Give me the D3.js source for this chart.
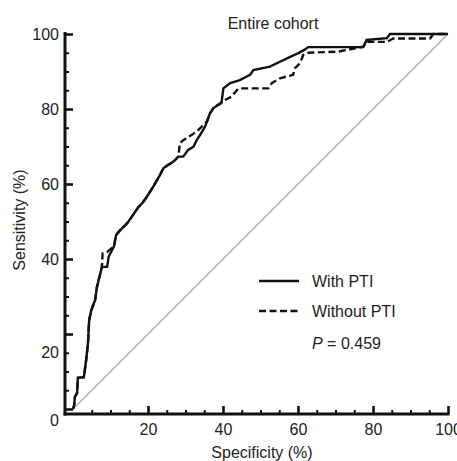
<!DOCTYPE html>
<html>
<head>
<meta charset="utf-8">
<script src="https://cdn.jsdelivr.net/npm/d3@7"></script>
<style>
  body { margin: 0; background: #fff; }
  text { font-family: "Liberation Sans", Arial, sans-serif; fill: #222; }
</style>
</head>
<body>
<div id="chart"></div>
<script>
(function () {

    // [specificity, sensitivity]
    const withPTI = [
        [0, 0], [0.3, 1], [0.5, 3.2], [1.1, 4.3], [1.3, 8.3], [2.9, 8.5], [3.5, 13],
        [4, 17.6], [4.3, 23.7], [4.9, 26.4], [5.9, 29.1], [6.4, 32.6], [7.3, 36.2],
        [7.7, 37.9], [9.1, 37.9], [9.5, 40.6], [10.9, 43.3], [11.5, 46.4], [12.6, 47.7],
        [14.4, 49.5], [15.7, 51.3], [17.5, 53.9], [18.4, 54.8], [19.7, 56.6], [21.4, 59.3],
        [23.2, 62.4], [24.1, 64.2], [25.4, 65.1], [26.7, 65.9], [28.1, 67.3], [29.4, 67.3],
        [30.7, 69.1], [32.1, 69.9], [33, 71.7], [33.9, 73.1], [35.2, 75.3], [35.7, 76.6],
        [36.5, 78.8], [37.4, 80.2], [38.7, 81.1], [39.6, 81.6], [40.1, 85.5], [41.9, 86.9],
        [44.5, 87.7], [47.2, 89.1], [48.1, 90.4], [52.5, 91.3], [55.2, 92.6], [57.9, 93.9],
        [60.1, 94.9], [61.9, 95.9], [62.7, 96.5], [77.4, 96.5], [78.3, 98.4], [83.7, 98.9],
        [84.5, 100], [100, 100]
    ];

    const withoutPTI = [
        [0, 0], [0.3, 1], [0.5, 3.2], [1.1, 4.3], [1.3, 8.3], [2.9, 8.5], [3.5, 13],
        [4, 17.6], [4.3, 23.7], [4.9, 26.4], [5.9, 29.1], [6.4, 32.6], [7.3, 36.2],
        [7.7, 37.9], [7.9, 41.5], [9.1, 41.9], [10.9, 43.3], [11.5, 46.4], [12.6, 47.7],
        [14.4, 49.5], [15.7, 51.3], [17.5, 53.9], [18.4, 54.8], [19.7, 56.6], [21.4, 59.3],
        [23.2, 62.4], [24.1, 64.2], [25.4, 65.1], [26.7, 65.9], [28.1, 67.3], [28.5, 70.9],
        [29.4, 71.7], [31.7, 73.1], [33.4, 74.4], [34.7, 75.7], [35.7, 76.6], [36.5, 78.8],
        [37.4, 80.2], [38.7, 81.1], [39.7, 81.9], [40.5, 82.4], [42.3, 83.3], [44.1, 85.5],
        [52.1, 85.5], [53, 86.9], [55.2, 88.2], [58.7, 89.1], [59.2, 90.9], [60.5, 92.2],
        [61.4, 94.4], [62.7, 95], [70.7, 95.3], [77.4, 96.6], [78.3, 97.9], [83.7, 97.9],
        [85.4, 98.8], [95.2, 98.8], [96.1, 100], [100, 100]
    ];

    const yTicks = [0, 20, 40, 60, 80, 100];
    const xTicks = [20, 40, 60, 80, 100];
    const minorTicks = [5, 10, 15, 25, 30, 35, 45, 50, 55, 65, 70, 75, 85, 90, 95];
    const legendLabels = ['With PTI', 'Without PTI'];
    const pText = '0.459';

    const width = 457;
    const height = 461;

    const svg = d3.select('#chart')
        .append('svg')
        .attr('width', width)
        .attr('height', height);

    const x = d3.scaleLinear().domain([0, 100]).range([73, 448]);
    const y = d3.scaleLinear().domain([0, 100]).range([409, 34]);

    const axisX = 65;   // where the y axis line sits
    const axisY = 414;  // where the x axis line sits

    // chance diagonal
    svg.append('line')
        .attr('x1', x(0)).attr('y1', y(0))
        .attr('x2', x(100)).attr('y2', y(100))
        .attr('stroke', '#a8a8a8')
        .attr('stroke-width', 1.2);

    const line = d3.line()
        .x(d => x(d[0]))
        .y(d => y(d[1]));

    svg.append('path')
        .datum(withoutPTI)
        .attr('d', line)
        .attr('fill', 'none')
        .attr('stroke', '#111')
        .attr('stroke-width', 2.4)
        .attr('stroke-dasharray', '7,3.5');

    svg.append('path')
        .datum(withPTI)
        .attr('d', line)
        .attr('fill', 'none')
        .attr('stroke', '#111')
        .attr('stroke-width', 2.4);

    // y axis
    const gy = svg.append('g')
        .attr('transform', `translate(${axisX},0)`)
        .call(d3.axisLeft(y).tickValues(yTicks).tickSize(-8).tickPadding(6));
    gy.select('.domain').remove();
    gy.selectAll('.tick line').attr('stroke', '#111').attr('stroke-width', 2.6);
    gy.selectAll('.tick text')
        .attr('font-size', 16)
        .attr('fill', '#222')
        .attr('dy', d => d === 0 ? '1.0em' : d === 20 ? '1.45em' : '0.34em');

    const gyMinor = svg.append('g')
        .attr('transform', `translate(${axisX},0)`)
        .call(d3.axisLeft(y).tickValues(minorTicks).tickSize(-4).tickFormat(''));
    gyMinor.select('.domain').remove();
    gyMinor.selectAll('.tick line').attr('stroke', '#111').attr('stroke-width', 2);

    // x axis
    const gx = svg.append('g')
        .attr('transform', `translate(0,${axisY})`)
        .call(d3.axisBottom(x).tickValues(xTicks).tickSize(-8).tickPadding(10));
    gx.select('.domain').remove();
    gx.selectAll('.tick line').attr('stroke', '#111').attr('stroke-width', 2.6);
    gx.selectAll('.tick text').attr('font-size', 16).attr('fill', '#222');

    const gxMinor = svg.append('g')
        .attr('transform', `translate(0,${axisY})`)
        .call(d3.axisBottom(x).tickValues(minorTicks).tickSize(-4).tickFormat(''));
    gxMinor.select('.domain').remove();
    gxMinor.selectAll('.tick line').attr('stroke', '#111').attr('stroke-width', 2);

    // axis lines
    svg.append('line')
        .attr('x1', axisX).attr('y1', y(100) - 2)
        .attr('x2', axisX).attr('y2', axisY + 1.5)
        .attr('stroke', '#111').attr('stroke-width', 3);
    svg.append('line')
        .attr('x1', axisX - 1.5).attr('y1', axisY)
        .attr('x2', x(100) + 1.5).attr('y2', axisY)
        .attr('stroke', '#111').attr('stroke-width', 3);

    // titles
    svg.append('text')
        .attr('x', 273).attr('y', 29)
        .attr('text-anchor', 'middle')
        .attr('font-size', 16)
        .text('Entire cohort');

    svg.append('text')
        .attr('x', 262).attr('y', 458)
        .attr('text-anchor', 'middle')
        .attr('font-size', 16)
        .text('Specificity (%)');

    svg.append('text')
        .attr('transform', 'translate(25,220) rotate(-90)')
        .attr('text-anchor', 'middle')
        .attr('font-size', 16)
        .text('Sensitivity (%)');

    // legend
    const legend = svg.append('g').attr('transform', 'translate(259,281)');
    legendLabels.forEach((label, i) => {
        legend.append('line')
            .attr('x1', 0).attr('x2', 40)
            .attr('y1', i * 30).attr('y2', i * 30)
            .attr('stroke', '#111')
            .attr('stroke-width', 2.6)
            .attr('stroke-dasharray', i === 1 ? '7,3.5' : null);
        legend.append('text')
            .attr('x', 53).attr('y', i * 30 + 6)
            .attr('font-size', 16)
            .text(label);
    });

    const pLabel = legend.append('text')
        .attr('x', 53).attr('y', 68)
        .attr('font-size', 16);
    pLabel.append('tspan').attr('font-style', 'italic').text('P');
    pLabel.append('tspan').text(' = ' + pText);

})();
</script>
</body>
</html>
